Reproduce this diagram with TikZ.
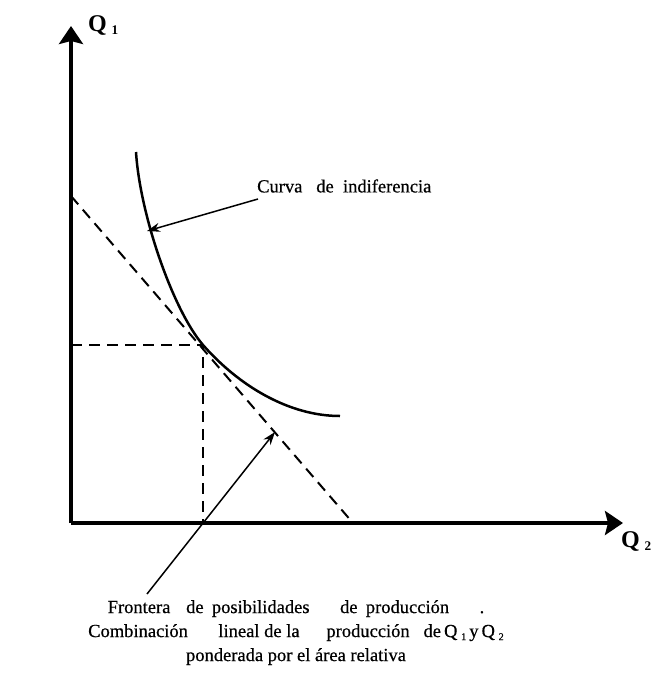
\documentclass[tikz,border=0pt]{standalone}
\usepackage{fontspec}
\setmainfont{Liberation Serif}
\usetikzlibrary{positioning}
\usetikzlibrary{arrows.meta}

\newcommand{\qsub}[1]{Q\hspace{0.2em}\raisebox{-0.35ex}{\scalebox{0.55}{#1}}}

\begin{document}
\begin{tikzpicture}[x=1pt, y=-1pt,
	axis/.style={line width=3.5pt, -{Stealth[length=18pt,width=24pt,inset=3pt]}},
	guide/.style={line width=2pt, dash pattern=on 11pt off 7pt},
	pointer/.style={line width=1.5pt, -{Stealth[length=13pt,width=9pt]}},
	lbl/.style={font=\fontsize{18.5}{24}\selectfont\addfontfeature{FakeBold=0.6}, inner sep=0pt}]
	\useasboundingbox (0,0) rectangle (658,675);
	% \draw[help lines, step=50] (0,0) grid (658,675);
	\coordinate (origin) at (71,523);
	\coordinate (ytip) at (71,26);
	\coordinate (xtip) at (623,523);
	\draw[axis] (origin) -- (ytip);
	\draw[axis] (origin) -- (xtip);
	\node[lbl, font=\fontsize{24}{24}\bfseries, anchor=west](q1) at (88,25){\qsub{1}};
	\node[lbl, font=\fontsize{24}{24}\bfseries, anchor=west](q2) at (621,541){\qsub{2}};

	% frontera y tangencia
	\coordinate (ftop) at (71,196);
	\coordinate (fbot) at (353,523);
	\coordinate (tang) at (203,345);
	\coordinate (tangx) at (71,345);
	\coordinate (tangy) at (203,523);
	\draw[guide] (ftop) -- (fbot);
	\draw[guide] (tangx) -- (tang) -- (tangy);
	\draw[line width=2.5pt] (136,152) .. controls (140,215) and (173,310) .. (tang)
		.. controls (240,387) and (290,416) .. (340,416);

	\node[lbl, anchor=west](iclab) at (257,186){Curva\hspace{0.5em} de\hspace{0.25em} indiferencia};
	\coordinate (icfrom) at (258,199);
	\coordinate (ictip) at (147,231);
	\draw[pointer] (icfrom) -- (ictip);

	\node[lbl, align=center, anchor=north](frlab) at (296,600){Frontera\hspace{0.6em} de\hspace{0.2em} posibilidades\hspace{1.4em} de\hspace{0.2em} producción\hspace{1.4em} .\hspace{0.4em}\\
		Combinación\hspace{1.4em} lineal de la\hspace{1.2em} producción\hspace{0.5em} de\,\qsub{1}\,y\,\qsub{2}\\
		ponderada por el área relativa\hspace{0.9em}};
	\coordinate (frfrom) at (147,594);
	\coordinate (frtip) at (275,432);
	\draw[pointer] (frfrom) -- (frtip);
\end{tikzpicture}
\end{document}
